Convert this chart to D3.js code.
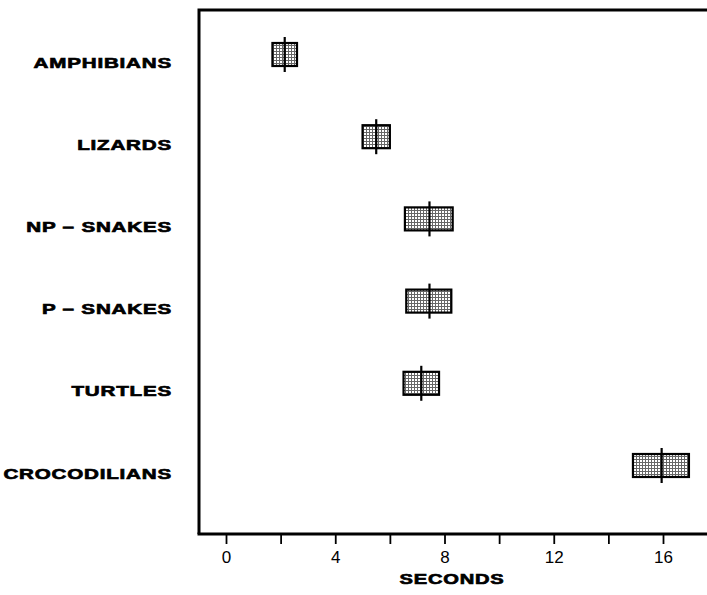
<!DOCTYPE html>
<html>
<head>
<meta charset="utf-8">
<script src="https://cdn.jsdelivr.net/npm/d3@7"></script>
<style>
  body { margin: 0; background: #fff; }
  svg { display: block; }
</style>
</head>
<body>
<svg id="chart" width="707" height="595"></svg>
<script>
// data (seconds)
var groups  = ["AMPHIBIANS", "LIZARDS", "NP – SNAKES", "P – SNAKES", "TURTLES", "CROCODILIANS"];
var lowVals  = [1.7, 5.0, 6.55, 6.6, 6.5, 14.9];
var highVals = [2.6, 6.0, 8.3, 8.25, 7.8, 16.95];
var midVals  = [2.15, 5.5, 7.45, 7.45, 7.15, 15.95];
var tickVals = [0, 2, 4, 6, 8, 10, 12, 14, 16];
var tickLabels = ["0", "", "4", "", "8", "", "12", "", "16"];

var svg = d3.select("#chart");

var frame = {left: 199, top: 10, bottom: 534, right: 707};

var x = d3.scaleLinear()
  .domain([0, 16])
  .range([226, 663]);

var y = d3.scalePoint()
  .domain(groups)
  .range([54.5, 465.5]);

// stipple fill
var defs = svg.append("defs");
var pat = defs.append("pattern")
  .attr("id", "stipple")
  .attr("patternUnits", "userSpaceOnUse")
  .attr("width", 3)
  .attr("height", 3);
pat.append("rect").attr("width", 3).attr("height", 3).attr("fill", "#fff");
pat.append("rect").attr("width", 3).attr("height", 1).attr("fill", "#666");
pat.append("rect").attr("width", 1).attr("height", 3).attr("fill", "#666");

// frame (left + top), right side runs off the page
svg.append("path")
  .attr("d", "M" + frame.right + "," + frame.top + "H" + frame.left + "V" + frame.bottom)
  .attr("fill", "none")
  .attr("stroke", "#000")
  .attr("stroke-width", 3);

// x axis
var xAxis = d3.axisBottom(x)
  .tickValues(tickVals)
  .tickFormat(function(d, i) { return tickLabels[i]; })
  .tickSize(10)
  .tickSizeOuter(0)
  .tickPadding(7);

var gx = svg.append("g")
  .attr("transform", "translate(0," + frame.bottom + ")")
  .call(xAxis);
gx.select(".domain").remove();
gx.selectAll(".tick line").attr("stroke", "#000").attr("stroke-width", 1.8);
gx.selectAll(".tick text")
  .attr("fill", "#000")
  .style("font-family", "Liberation Sans, Arial, sans-serif")
  .style("font-size", "17px");

svg.append("line")
  .attr("x1", frame.left - 1.5).attr("x2", frame.right)
  .attr("y1", frame.bottom).attr("y2", frame.bottom)
  .attr("stroke", "#000")
  .attr("stroke-width", 3);

function heavy(sel, size) {
  sel.style("font-family", "Liberation Sans, Arial, sans-serif")
    .style("font-weight", "bold")
    .style("font-size", size + "px")
    .style("letter-spacing", "0.6px")
    .attr("stroke", "#000")
    .attr("stroke-width", 0.7);
}

svg.append("text")
  .attr("transform", "translate(452,584) scale(1.3,1)")
  .attr("text-anchor", "middle")
  .call(heavy, 15.5)
  .text("SECONDS");

// category labels
svg.selectAll(".cat")
  .data(groups)
  .enter()
  .append("text")
  .attr("class", "cat")
  .attr("transform", function(d) { return "translate(172," + (y(d) + 13) + ") scale(1.33,1)"; })
  .attr("text-anchor", "end")
  .call(heavy, 15.5)
  .text(function(d) { return d; });

// boxes
var boxH = 23;
svg.selectAll(".box")
  .data(groups)
  .enter()
  .append("rect")
  .attr("class", "box")
  .attr("x", function(d, i) { return x(lowVals[i]); })
  .attr("y", function(d) { return y(d) - boxH / 2; })
  .attr("width", function(d, i) { return x(highVals[i]) - x(lowVals[i]); })
  .attr("height", boxH)
  .attr("fill", "url(#stipple)")
  .attr("stroke", "#000")
  .attr("stroke-width", 2.2);

// median lines
svg.selectAll(".mid")
  .data(groups)
  .enter()
  .append("line")
  .attr("class", "mid")
  .attr("x1", function(d, i) { return x(midVals[i]); })
  .attr("x2", function(d, i) { return x(midVals[i]); })
  .attr("y1", function(d) { return y(d) - boxH / 2 - 6; })
  .attr("y2", function(d) { return y(d) + boxH / 2 + 6; })
  .attr("stroke", "#000")
  .attr("stroke-width", 2.2);
</script>
</body>
</html>
